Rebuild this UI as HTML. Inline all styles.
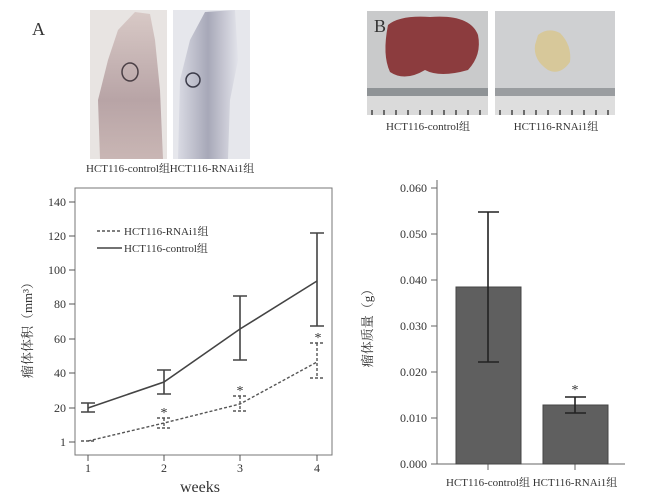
<!DOCTYPE html>
<html><head><meta charset="utf-8"><style>
html,body{margin:0;padding:0;background:#fff;}
svg{display:block;}
text{font-family:"Liberation Serif","Noto Serif CJK SC",serif;fill:#333;}
</style></head><body>
<svg width="650" height="504" viewBox="0 0 650 504" xmlns="http://www.w3.org/2000/svg">
<defs>
<linearGradient id="m1" x1="0" y1="0" x2="0" y2="1"><stop offset="0" stop-color="#d8c9c6"/><stop offset="0.6" stop-color="#b8a4a6"/><stop offset="1" stop-color="#c9b6b4"/></linearGradient>
<linearGradient id="m2" x1="0" y1="0" x2="1" y2="0"><stop offset="0" stop-color="#d9dae3"/><stop offset="0.5" stop-color="#a7a8b8"/><stop offset="1" stop-color="#e2e3ea"/></linearGradient>
</defs>
<text x="32" y="35" font-size="18">A</text>
<rect x="90" y="10" width="77" height="149" fill="#e8e4e2"/>
<path d="M100 159 L98 100 L108 60 L118 30 L135 12 L150 14 L155 40 L160 90 L163 159 Z" fill="url(#m1)"/>
<ellipse cx="130" cy="72" rx="8" ry="9" fill="none" stroke="#4a3f45" stroke-width="1.5"/>
<rect x="173" y="10" width="77" height="149" fill="#e6e7ec"/>
<path d="M178 159 L180 80 L190 40 L205 12 L235 10 L238 60 L230 100 L228 159 Z" fill="url(#m2)"/>
<circle cx="193" cy="80" r="7" fill="none" stroke="#3a3a48" stroke-width="1.5"/>
<text x="128" y="172" font-size="11" text-anchor="middle">HCT116-control组</text>
<text x="212" y="172" font-size="11" text-anchor="middle">HCT116-RNAi1组</text>
<rect x="367" y="11" width="121" height="104" fill="#c9cacb"/>
<path d="M388 25 Q400 15 430 17 Q470 14 478 35 Q482 55 468 70 Q440 78 425 70 Q405 82 390 72 Q382 55 388 25 Z" fill="#8c3c3e"/>
<rect x="367" y="88" width="121" height="27" fill="#8f9396"/>
<rect x="367" y="96" width="121" height="19" fill="#dadada"/>
<rect x="495" y="11" width="120" height="104" fill="#cfd0d2"/>
<path d="M538 35 Q548 27 560 33 Q572 45 570 62 Q560 76 548 70 Q533 60 535 45 Z" fill="#d7c89a"/>
<rect x="495" y="88" width="120" height="27" fill="#9a9da0"/>
<rect x="495" y="96" width="120" height="19" fill="#dedede"/>
<g stroke="#222" stroke-width="1.2">
<path d="M372 110v5M384 110v5M396 110v5M408 110v5M420 110v5M432 110v5M444 110v5M456 110v5M468 110v5M480 110v5"/>
<path d="M500 110v5M512 110v5M524 110v5M536 110v5M548 110v5M560 110v5M572 110v5M584 110v5M596 110v5M608 110v5"/>
</g>
<text x="374" y="32" font-size="18" fill="#222">B</text>
<text x="428" y="130" font-size="11" text-anchor="middle">HCT116-control组</text>
<text x="556" y="130" font-size="11" text-anchor="middle">HCT116-RNAi1组</text>

<rect x="75" y="188" width="257" height="267" fill="none" stroke="#777" stroke-width="1"/>
<g stroke="#555" stroke-width="1">
<path d="M69 202h6M69 236h6M69 270h6M69 304h6M69 339h6M69 373h6M69 408h6M69 442h6"/>
<path d="M88 455v6M164 455v6M240 455v6M317 455v6"/>
</g>
<g font-size="12" text-anchor="end">
<text x="66" y="206">140</text><text x="66" y="240">120</text><text x="66" y="274">100</text><text x="66" y="308">80</text><text x="66" y="343">60</text><text x="66" y="377">40</text><text x="66" y="412">20</text><text x="66" y="446">1</text>
</g>
<g font-size="12" text-anchor="middle">
<text x="88" y="472">1</text><text x="164" y="472">2</text><text x="240" y="472">3</text><text x="317" y="472">4</text>
</g>
<text x="200" y="492" font-size="16" text-anchor="middle">weeks</text>
<text transform="translate(32,327) rotate(-90)" font-size="13" text-anchor="middle" fill="#555">瘤体体积（mm³）</text>
<g stroke="#444" stroke-width="1.6" fill="none">
<polyline points="88,408 164,382 240,329 317,281"/>
<path d="M81 403h14M81 412h14M88 403v9"/>
<path d="M157 370h14M157 394h14M164 370v24"/>
<path d="M233 296h14M233 360h14M240 296v64"/>
<path d="M310 233h14M310 326h14M317 233v93"/>
</g>
<g stroke="#555" stroke-width="1.4" fill="none" stroke-dasharray="3,2">
<polyline points="88,441 164,423 240,404 317,362"/>
<path d="M81 441h14"/>
<path d="M157 418h14M157 428h14M164 418v10"/>
<path d="M233 396h14M233 411h14M240 396v15"/>
<path d="M310 343h14M310 378h14M317 343v35"/>
</g>
<g font-size="14" text-anchor="middle"><text x="164" y="417">*</text><text x="240" y="395">*</text><text x="318" y="342">*</text></g>
<line x1="97" y1="231" x2="122" y2="231" stroke="#555" stroke-width="1.4" stroke-dasharray="3,2"/>
<line x1="97" y1="248" x2="122" y2="248" stroke="#444" stroke-width="1.6"/>
<text x="124" y="235" font-size="11">HCT116-RNAi1组</text>
<text x="124" y="252" font-size="11">HCT116-control组</text>

<g stroke="#666" stroke-width="1" fill="none">
<path d="M437 180V464H625"/>
<path d="M431 188h6M431 234h6M431 280h6M431 326h6M431 372h6M431 418h6M431 464h6"/>
<path d="M488 464v6M575 464v6"/>
</g>
<g font-size="12" text-anchor="end">
<text x="427" y="192">0.060</text><text x="427" y="238">0.050</text><text x="427" y="284">0.040</text><text x="427" y="330">0.030</text><text x="427" y="376">0.020</text><text x="427" y="422">0.010</text><text x="427" y="468">0.000</text>
</g>
<rect x="456" y="287" width="65" height="177" fill="#5f5f5f" stroke="#444"/>
<rect x="543" y="405" width="65" height="59" fill="#5f5f5f" stroke="#444"/>
<g stroke="#222" stroke-width="1.6">
<path d="M478 212h21M478 362h21M488 212v150"/>
<path d="M565 397h21M565 413h21M575 397v16"/>
</g>
<text x="575" y="394" font-size="14" text-anchor="middle">*</text>
<text x="488" y="486" font-size="11" text-anchor="middle">HCT116-control组</text>
<text x="575" y="486" font-size="11" text-anchor="middle">HCT116-RNAi1组</text>
<text transform="translate(372,325) rotate(-90)" font-size="13" text-anchor="middle" fill="#555">瘤体质量（g）</text>
</svg>
</body></html>
